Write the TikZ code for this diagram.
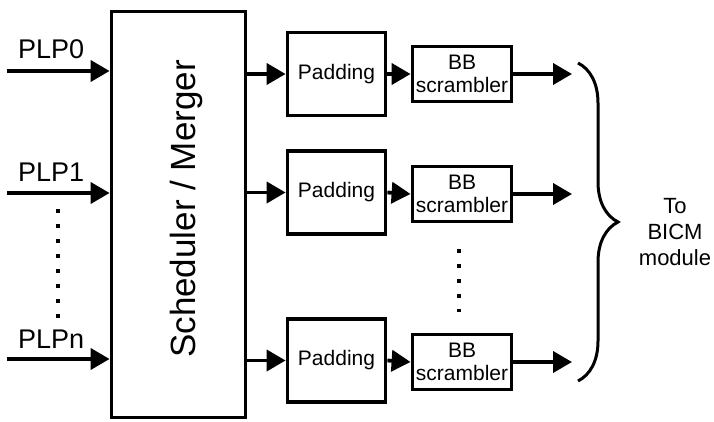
\documentclass[tikz,border=0pt]{standalone}
\usepackage{fontspec}
\setmainfont{Liberation Sans}
\usetikzlibrary{arrows.meta,decorations.pathreplacing}
\begin{document}
\begin{tikzpicture}[x=1pt,y=-1pt,
  blk/.style={draw,line width=3.8pt,inner sep=0pt,align=center},
  conn/.style={line width=3.8pt,-{Triangle[length=19pt,width=21pt]}},
  lbl/.style={inner sep=0pt,font=\fontsize{27}{30}\selectfont},
  dotline/.style={line width=3.8pt,dash pattern=on 3.8pt off 11.2pt}]
\useasboundingbox (0,0) rectangle (714,422);
% scheduler
\node[blk,minimum width=134pt,minimum height=406pt] (sch) at (178.5,214.5) {};
\node[rotate=90,inner sep=0pt,font=\fontsize{35}{38}\selectfont] (schtxt) at (186,209) {Scheduler / Merger};
% inputs
\coordinate (i0) at (7,71);
\coordinate (i1) at (7,193);
\coordinate (in) at (7,359);
\draw[conn] (i0) -- (i0 -| sch.west);
\draw[conn] (i1) -- (i1 -| sch.west);
\draw[conn] (in) -- (in -| sch.west);
\node[lbl,anchor=base west] (l0) at (18,59) {PLP0};
\node[lbl,anchor=base west] (l1) at (18,182) {PLP1};
\node[lbl,anchor=base west] (ln) at (18,348) {PLPn};
\coordinate (d0) at (58,209);
\coordinate (d1) at (58,318);
\draw[dotline] (d0) -- (d1);
% padding boxes
\node[blk,minimum width=98pt,minimum height=83pt,font=\fontsize{21}{24}\selectfont] (p0) at (336.5,74) {Padding};
\node[blk,minimum width=98pt,minimum height=83pt,font=\fontsize{21}{24}\selectfont] (p1) at (336.5,192.5) {Padding};
\node[blk,minimum width=98pt,minimum height=83pt,font=\fontsize{21}{24}\selectfont] (p2) at (336.5,360.5) {Padding};
% scrambler boxes
\node[blk,minimum width=99pt,minimum height=55pt,font=\fontsize{21}{23}\selectfont] (b0) at (462,74) {BB\\scrambler};
\node[blk,minimum width=99pt,minimum height=55pt,font=\fontsize{21}{23}\selectfont] (b1) at (462,194) {BB\\scrambler};
\node[blk,minimum width=99pt,minimum height=55pt,font=\fontsize{21}{23}\selectfont] (b2) at (462,362) {BB\\scrambler};
% connectors
\draw[conn] (sch.east |- p0) -- (p0.west);
\draw[conn] (sch.east |- p1) -- (p1.west);
\draw[conn] (sch.east |- p2) -- (p2.west);
\draw[conn] (p0.east) -- (b0.west);
\draw[conn] (p1.east) -- (b1.west);
\draw[conn] (p2.east) -- (b2.west);
\coordinate (o0) at (572,74);
\coordinate (o1) at (572,194);
\coordinate (o2) at (572,362);
\draw[conn] (b0.east) -- (o0);
\draw[conn] (b1.east) -- (o1);
\draw[conn] (b2.east) -- (o2);
% dots between scramblers
\coordinate (e0) at (459,249);
\coordinate (e1) at (459,312);
\draw[dotline] (e0) -- (e1);
% brace
\coordinate (bt) at (578,63);
\coordinate (bb) at (578,381);
\draw[line width=3pt,decorate,decoration={brace,amplitude=40pt,aspect=0.5}] (bt) -- (bb);
\node[inner sep=0pt,align=center,font=\fontsize{22}{26}\selectfont] (to) at (675,232) {To\\BICM\\module};
\end{tikzpicture}
\end{document}
